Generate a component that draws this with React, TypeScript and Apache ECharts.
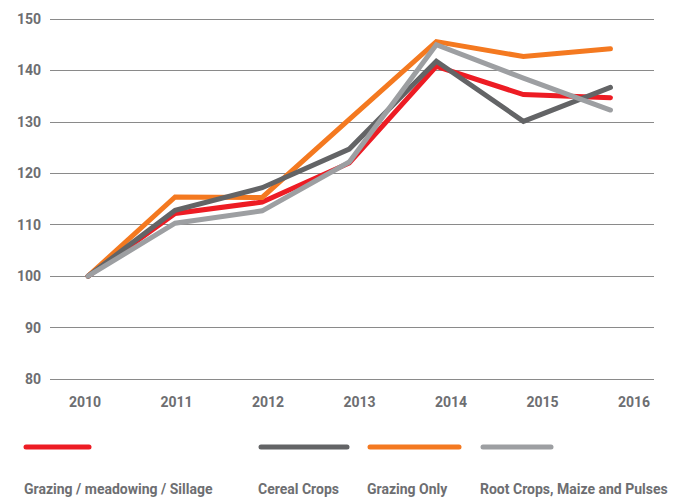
import React, { useEffect, useRef } from "react";
import * as echarts from "echarts";

const years = [2010, 2011, 2012, 2013, 2014, 2015, 2016];
const grazingMeadowing = [100, 112.2, 114.4, 122.0, 140.8, 135.3, 134.7];
const cerealCrops = [100, 112.8, 117.2, 124.7, 141.8, 130.1, 136.7];
const grazingOnly = [100, 115.4, 115.3, 130.5, 145.6, 142.7, 144.2];
const rootCrops = [100, 110.3, 112.7, 122.2, 145.0, 138.5, 132.3];
const yTicks = [80, 90, 100, 110, 120, 130, 140, 150];

const seriesDefs = [
  { name: "Grazing / meadowing / Sillage", data: grazingMeadowing, color: "#ED1C24" },
  { name: "Grazing Only", data: grazingOnly, color: "#F47920" },
  { name: "Cereal Crops", data: cerealCrops, color: "#636466" },
  { name: "Root Crops, Maize and Pulses", data: rootCrops, color: "#9D9FA2" },
];

const legendItems = [
  { name: "Grazing / meadowing / Sillage", color: "#ED1C24", x1: 26, x2: 89, tx: 24 },
  { name: "Cereal Crops", color: "#636466", x1: 261, x2: 347, tx: 258 },
  { name: "Grazing Only", color: "#F47920", x1: 370, x2: 459, tx: 367 },
  { name: "Root Crops, Maize and Pulses", color: "#9D9FA2", x1: 483, x2: 551, tx: 480 },
];

const FONT = "Roboto, 'DejaVu Sans', sans-serif";
const TEXT_COLOR = "#6d6e71";

export default function App() {
  const ref = useRef<HTMLDivElement>(null);
  useEffect(() => {
    if (!ref.current) return;
    const chart = echarts.init(ref.current, null, { renderer: "svg" });
    const graphics: any[] = [];
    legendItems.forEach((it) => {
      graphics.push({
        type: "line",
        shape: { x1: it.x1, y1: 447, x2: it.x2, y2: 447 },
        style: { stroke: it.color, lineWidth: 5, lineCap: "round" },
      });
      graphics.push({
        type: "text",
        x: it.tx,
        y: 489,
        style: {
          text: it.name,
          fill: TEXT_COLOR,
          font: `bold 14px ${FONT}`,
          textVerticalAlign: "middle",
          verticalAlign: "middle",
        },
      });
    });
    chart.setOption({
      animation: false,
      backgroundColor: "#ffffff",
      grid: { left: 50, right: 33, top: 19, bottom: 118, containLabel: false },
      xAxis: [
        {
          type: "value",
          min: 2009.563,
          max: 2016.5,
          show: false,
          splitLine: { show: false },
        },
        {
          type: "value",
          position: "bottom",
          min: 2009.6175,
          max: 2016.2186,
          axisLine: { show: false },
          axisTick: { show: false },
          splitLine: { show: false },
          axisLabel: {
            customValues: years,
            formatter: (v: number) => String(v),
            color: TEXT_COLOR,
            fontWeight: "bold",
            fontSize: 14,
            fontFamily: FONT,
            margin: 16,
            showMinLabel: true,
            showMaxLabel: true,
          },
        },
      ],
      yAxis: {
        type: "value",
        min: yTicks[0],
        max: yTicks[yTicks.length - 1],
        interval: 10,
        axisLine: { show: false },
        axisTick: { show: false },
        axisLabel: {
          color: TEXT_COLOR,
          fontWeight: "bold",
          fontSize: 14,
          fontFamily: FONT,
          margin: 9,
        },
        splitLine: { lineStyle: { color: "#8a8a8a", width: 1 } },
      },
      series: seriesDefs.map((s) => ({
        name: s.name,
        type: "line",
        xAxisIndex: 0,
        data: years.map((y, i) => [y, s.data[i]]),
        symbol: "none",
        lineStyle: { color: s.color, width: 5, cap: "round", join: "miter" },
        itemStyle: { color: s.color },
      })),
      graphic: graphics,
    });
    return () => chart.dispose();
  }, []);
  return <div ref={ref} style={{ width: 687, height: 497, position: "absolute", left: 0, top: 0 }} />;
}
